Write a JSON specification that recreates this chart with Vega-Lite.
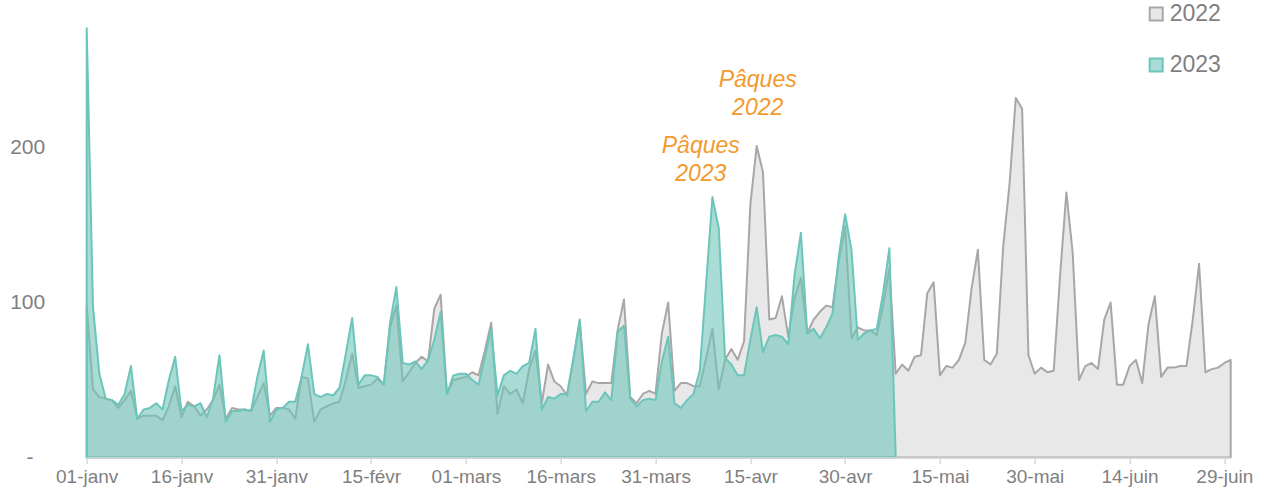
{
  "$schema": "https://vega.github.io/schema/vega-lite/v6.json",
  "width": 1144,
  "height": 465,
  "autosize": {"type": "none"},
  "padding": {"left": 86.7, "top": -7.5, "right": 35.3, "bottom": 34.5},
  "background": "white",
  "config": {"view": {"stroke": null}, "font": "Liberation Sans"},
  "data": {"values": [
    {"d":"2024-01-01","2022":98,"2023":277},{"d":"2024-01-02","2022":44,"2023":97},{"d":"2024-01-03","2022":39,"2023":54},{"d":"2024-01-04","2022":38,"2023":38},{"d":"2024-01-05","2022":37,"2023":37},{"d":"2024-01-06","2022":32,"2023":34},{"d":"2024-01-07","2022":37,"2023":41},{"d":"2024-01-08","2022":43,"2023":59},{"d":"2024-01-09","2022":25,"2023":25},{"d":"2024-01-10","2022":27,"2023":31},
    {"d":"2024-01-11","2022":27,"2023":32},{"d":"2024-01-12","2022":27,"2023":35},{"d":"2024-01-13","2022":24,"2023":31},{"d":"2024-01-14","2022":33,"2023":50},{"d":"2024-01-15","2022":46,"2023":65},{"d":"2024-01-16","2022":26,"2023":30},{"d":"2024-01-17","2022":36,"2023":34},{"d":"2024-01-18","2022":33,"2023":33},{"d":"2024-01-19","2022":27,"2023":35},{"d":"2024-01-20","2022":31,"2023":26},
    {"d":"2024-01-21","2022":37,"2023":38},{"d":"2024-01-22","2022":47,"2023":66},{"d":"2024-01-23","2022":25,"2023":23},{"d":"2024-01-24","2022":32,"2023":30},{"d":"2024-01-25","2022":31,"2023":30},{"d":"2024-01-26","2022":31,"2023":31},{"d":"2024-01-27","2022":30,"2023":30},{"d":"2024-01-28","2022":39,"2023":52},{"d":"2024-01-29","2022":48,"2023":69},{"d":"2024-01-30","2022":27,"2023":23},
    {"d":"2024-01-31","2022":32,"2023":31},
    {"d":"2024-02-01","2022":32,"2023":32},{"d":"2024-02-02","2022":31,"2023":36},{"d":"2024-02-03","2022":25,"2023":36},{"d":"2024-02-04","2022":52,"2023":52},{"d":"2024-02-05","2022":51,"2023":73},{"d":"2024-02-06","2022":23,"2023":41},{"d":"2024-02-07","2022":31,"2023":39},{"d":"2024-02-08","2022":33,"2023":41},{"d":"2024-02-09","2022":35,"2023":40},{"d":"2024-02-10","2022":36,"2023":45},
    {"d":"2024-02-11","2022":50,"2023":67},{"d":"2024-02-12","2022":67,"2023":90},{"d":"2024-02-13","2022":45,"2023":47},{"d":"2024-02-14","2022":46,"2023":53},{"d":"2024-02-15","2022":47,"2023":53},{"d":"2024-02-16","2022":51,"2023":52},{"d":"2024-02-17","2022":47,"2023":47},{"d":"2024-02-18","2022":84,"2023":87},{"d":"2024-02-19","2022":98,"2023":110},{"d":"2024-02-20","2022":49,"2023":61},
    {"d":"2024-02-21","2022":55,"2023":60},{"d":"2024-02-22","2022":61,"2023":62},{"d":"2024-02-23","2022":65,"2023":57},{"d":"2024-02-24","2022":62,"2023":63},{"d":"2024-02-25","2022":96,"2023":76},{"d":"2024-02-26","2022":105,"2023":94},{"d":"2024-02-27","2022":41,"2023":41},{"d":"2024-02-28","2022":50,"2023":53},{"d":"2024-02-29","2022":51,"2023":54},
    {"d":"2024-03-01","2022":52,"2023":54},{"d":"2024-03-02","2022":55,"2023":50},{"d":"2024-03-03","2022":53,"2023":47},{"d":"2024-03-04","2022":69,"2023":65},{"d":"2024-03-05","2022":87,"2023":83},{"d":"2024-03-06","2022":28,"2023":40},{"d":"2024-03-07","2022":46,"2023":53},{"d":"2024-03-08","2022":41,"2023":56},{"d":"2024-03-09","2022":44,"2023":54},{"d":"2024-03-10","2022":35,"2023":59},
    {"d":"2024-03-11","2022":57,"2023":61},{"d":"2024-03-12","2022":69,"2023":83},{"d":"2024-03-13","2022":35,"2023":31},{"d":"2024-03-14","2022":60,"2023":39},{"d":"2024-03-15","2022":49,"2023":38},{"d":"2024-03-16","2022":46,"2023":41},{"d":"2024-03-17","2022":40,"2023":41},{"d":"2024-03-18","2022":63,"2023":64},{"d":"2024-03-19","2022":88,"2023":89},{"d":"2024-03-20","2022":41,"2023":30},
    {"d":"2024-03-21","2022":49,"2023":36},{"d":"2024-03-22","2022":48,"2023":36},{"d":"2024-03-23","2022":48,"2023":42},{"d":"2024-03-24","2022":48,"2023":37},{"d":"2024-03-25","2022":82,"2023":81},{"d":"2024-03-26","2022":102,"2023":85},{"d":"2024-03-27","2022":39,"2023":38},{"d":"2024-03-28","2022":35,"2023":33},{"d":"2024-03-29","2022":41,"2023":37},{"d":"2024-03-30","2022":43,"2023":38},
    {"d":"2024-03-31","2022":41,"2023":37},
    {"d":"2024-04-01","2022":80,"2023":62},{"d":"2024-04-02","2022":100,"2023":78},{"d":"2024-04-03","2022":43,"2023":35},{"d":"2024-04-04","2022":48,"2023":32},{"d":"2024-04-05","2022":48,"2023":37},{"d":"2024-04-06","2022":46,"2023":41},{"d":"2024-04-07","2022":46,"2023":56},{"d":"2024-04-08","2022":64,"2023":112},{"d":"2024-04-09","2022":83,"2023":168},{"d":"2024-04-10","2022":44,"2023":148},
    {"d":"2024-04-11","2022":63,"2023":64},{"d":"2024-04-12","2022":70,"2023":60},{"d":"2024-04-13","2022":63,"2023":53},{"d":"2024-04-14","2022":75,"2023":53},{"d":"2024-04-15","2022":163,"2023":76},{"d":"2024-04-16","2022":201,"2023":97},{"d":"2024-04-17","2022":184,"2023":68},{"d":"2024-04-18","2022":89,"2023":78},{"d":"2024-04-19","2022":90,"2023":79},{"d":"2024-04-20","2022":104,"2023":78},
    {"d":"2024-04-21","2022":78,"2023":73},{"d":"2024-04-22","2022":103,"2023":118},{"d":"2024-04-23","2022":116,"2023":145},{"d":"2024-04-24","2022":80,"2023":80},{"d":"2024-04-25","2022":89,"2023":83},{"d":"2024-04-26","2022":94,"2023":77},{"d":"2024-04-27","2022":98,"2023":84},{"d":"2024-04-28","2022":97,"2023":93},{"d":"2024-04-29","2022":127,"2023":130},{"d":"2024-04-30","2022":149,"2023":157},
    {"d":"2024-05-01","2022":77,"2023":134},{"d":"2024-05-02","2022":84,"2023":76},{"d":"2024-05-03","2022":82,"2023":80},{"d":"2024-05-04","2022":82,"2023":82},{"d":"2024-05-05","2022":79,"2023":83},{"d":"2024-05-06","2022":98,"2023":106},{"d":"2024-05-07","2022":122,"2023":135},{"d":"2024-05-08","2022":54,"2023":0},{"d":"2024-05-09","2022":60},{"d":"2024-05-10","2022":56},
    {"d":"2024-05-11","2022":65},{"d":"2024-05-12","2022":66},{"d":"2024-05-13","2022":106},{"d":"2024-05-14","2022":113},{"d":"2024-05-15","2022":53},{"d":"2024-05-16","2022":59},{"d":"2024-05-17","2022":58},{"d":"2024-05-18","2022":63},{"d":"2024-05-19","2022":74},{"d":"2024-05-20","2022":109},
    {"d":"2024-05-21","2022":134},{"d":"2024-05-22","2022":63},{"d":"2024-05-23","2022":60},{"d":"2024-05-24","2022":67},{"d":"2024-05-25","2022":136},{"d":"2024-05-26","2022":176},{"d":"2024-05-27","2022":232},{"d":"2024-05-28","2022":225},{"d":"2024-05-29","2022":66},{"d":"2024-05-30","2022":54},
    {"d":"2024-05-31","2022":58},
    {"d":"2024-06-01","2022":55},{"d":"2024-06-02","2022":56},{"d":"2024-06-03","2022":117},{"d":"2024-06-04","2022":171},{"d":"2024-06-05","2022":132},{"d":"2024-06-06","2022":50},{"d":"2024-06-07","2022":59},{"d":"2024-06-08","2022":61},{"d":"2024-06-09","2022":57},{"d":"2024-06-10","2022":89},
    {"d":"2024-06-11","2022":100},{"d":"2024-06-12","2022":47},{"d":"2024-06-13","2022":47},{"d":"2024-06-14","2022":59},{"d":"2024-06-15","2022":63},{"d":"2024-06-16","2022":48},{"d":"2024-06-17","2022":86},{"d":"2024-06-18","2022":104},{"d":"2024-06-19","2022":52},{"d":"2024-06-20","2022":58},
    {"d":"2024-06-21","2022":58},{"d":"2024-06-22","2022":59},{"d":"2024-06-23","2022":59},{"d":"2024-06-24","2022":89},{"d":"2024-06-25","2022":125},{"d":"2024-06-26","2022":55},{"d":"2024-06-27","2022":57},{"d":"2024-06-28","2022":58},{"d":"2024-06-29","2022":61},{"d":"2024-06-30","2022":63}
  ]},
  "layer": [
    {
      "transform": [
        {"fold": ["2022", "2023"], "as": ["series", "value"]},
        {"filter": "isValid(datum.value)"}
      ],
      "mark": {"type": "area", "strokeWidth": 2, "interpolate": "linear", "strokeJoin": "round"},
      "encoding": {
        "x": {
          "field": "d", "type": "temporal",
          "scale": {"type": "utc", "domain": [{"year": 2024, "month": 1, "date": 1, "utc": true}, {"year": 2024, "month": 6, "date": 30, "utc": true}]},
          "axis": {
            "title": null, "grid": false, "zindex": 1,
            "values": [
              {"year": 2024, "month": 1, "date": 1, "utc": true},
              {"year": 2024, "month": 1, "date": 16, "utc": true},
              {"year": 2024, "month": 1, "date": 31, "utc": true},
              {"year": 2024, "month": 2, "date": 15, "utc": true},
              {"year": 2024, "month": 3, "date": 1, "utc": true},
              {"year": 2024, "month": 3, "date": 16, "utc": true},
              {"year": 2024, "month": 3, "date": 31, "utc": true},
              {"year": 2024, "month": 4, "date": 15, "utc": true},
              {"year": 2024, "month": 4, "date": 30, "utc": true},
              {"year": 2024, "month": 5, "date": 15, "utc": true},
              {"year": 2024, "month": 5, "date": 30, "utc": true},
              {"year": 2024, "month": 6, "date": 14, "utc": true},
              {"year": 2024, "month": 6, "date": 29, "utc": true}
            ],
            "labelExpr": "utcFormat(datum.value, '%d') + '-' + ['janv','févr','mars','avr','mai','juin','juil','août','sept','oct','nov','déc'][utcmonth(datum.value)]",
            "domainColor": "#D9D9D9", "domainWidth": 1.5, "tickColor": "#D9D9D9", "tickSize": 6, "tickWidth": 1.5,
            "labelFontSize": 19, "labelColor": "#7F7F7F", "labelPadding": 4, "labelFlush": false, "labelOverlap": false
          }
        },
        "y": {
          "field": "value", "type": "quantitative", "stack": null,
          "scale": {"domain": [0, 300], "nice": false},
          "axis": {
            "title": null, "grid": false, "domain": false, "ticks": false, "tickSize": 0,
            "values": [0, 100, 200, 300],
            "labelExpr": "datum.value == 0 ? '-\u00a0\u00a0\u200b' : datum.label",
            "labelFontSize": 21, "labelColor": "#7F7F7F", "labelPadding": 42
          }
        },
        "fill": {
          "field": "series", "type": "nominal",
          "scale": {"domain": ["2022", "2023"], "range": ["#E8E8E8", "rgba(110,196,185,0.6)"]},
          "legend": {
            "title": null, "orient": "none", "legendX": 1058, "legendY": 10, "direction": "vertical",
            "symbolType": "square", "symbolSize": 169, "symbolStrokeWidth": 2,
            "labelFontSize": 23, "labelColor": "#7F7F7F", "rowPadding": 27, "labelOffset": 2, "padding": 0
          }
        },
        "stroke": {
          "field": "series", "type": "nominal",
          "scale": {"domain": ["2022", "2023"], "range": ["#AAA6A6", "#6CC5BA"]}
        }
      }
    },
    {
      "data": {"values": [
        {"d": "2024-04-16", "v": 243.5, "t": "Pâques\n2022"},
        {"d": "2024-04-07", "v": 201, "t": "Pâques\n2023"}
      ]},
      "mark": {"type": "text", "lineBreak": "\n", "fontStyle": "italic", "fontSize": 23, "color": "#F39A2E", "align": "center", "baseline": "middle", "lineHeight": 28, "dx": 1},
      "encoding": {
        "x": {"field": "d", "type": "temporal"},
        "y": {"field": "v", "type": "quantitative"},
        "text": {"field": "t"}
      }
    }
  ]
}
